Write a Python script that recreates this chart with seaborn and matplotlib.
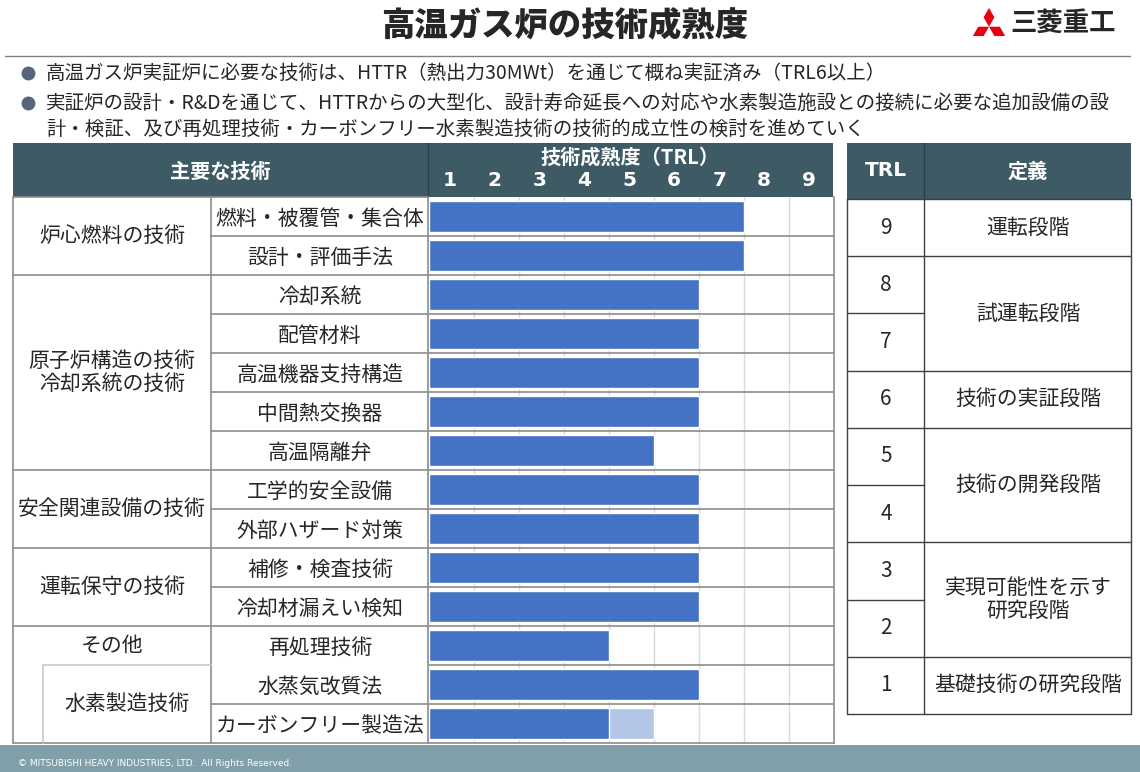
import numpy as np
import pandas as pd
import matplotlib.pyplot as plt
import matplotlib.patches as mpatches
import seaborn as sns

# ---- data ----
items = ['燃料・被覆管・集合体', '設計・評価手法', '冷却系統', '配管材料', '高温機器支持構造',
         '中間熱交換器', '高温隔離弁', '工学的安全設備', '外部ハザード対策', '補修・検査技術',
         '冷却材漏えい検知', '再処理技術', '水蒸気改質法', 'カーボンフリー製造法']
trl_now = [7, 7, 6, 6, 6, 6, 5, 6, 6, 6, 6, 4, 6, 4]
trl_outlook = [7, 7, 6, 6, 6, 6, 5, 6, 6, 6, 6, 4, 6, 5]
groups = ['炉心燃料の技術', '原子炉構造の技術\n冷却系統の技術', '安全関連設備の技術',
          '運転保守の技術', 'その他', '水素製造技術']
group_sizes = [2, 5, 2, 2, 1, 2]
trl_levels = [9, 8, 7, 6, 5, 4, 3, 2, 1]
trl_defs = ['運転段階', '試運転段階', '技術の実証段階', '技術の開発段階',
            '実現可能性を示す\n研究段階', '基礎技術の研究段階']
trl_def_spans = [1, 2, 1, 2, 2, 1]
bullets = ['高温ガス炉実証炉に必要な技術は、HTTR（熱出力30MWt）を通じて概ね実証済み（TRL6以上）',
           '実証炉の設計・R&Dを通じて、HTTRからの大型化、設計寿命延長への対応や水素製造施設との接続に必要な追加設備の設\n'
           '計・検証、及び再処理技術・カーボンフリー水素製造技術の技術的成立性の検討を進めていく']

df = pd.DataFrame({'item': items, 'now': trl_now, 'outlook': trl_outlook})

sns.set_style('white')
plt.rcParams['font.family'] = ['Noto Sans CJK JP', 'DejaVu Sans']

W, H = 1140, 772
HEAD = '#3e5b65'
LINE = '#8c8c8c'
fig = plt.figure(figsize=(W / 100, H / 100), dpi=100)

# page canvas in pixel coordinates
bg = fig.add_axes([0, 0, 1, 1])
bg.set_xlim(0, W)
bg.set_ylim(H, 0)
bg.axis('off')

bg.text(565, 26, '高温ガス炉の技術成熟度', fontsize=24, fontweight='heavy', ha='center', va='center')
bg.plot([5, 1130], [56, 56], color='#808080', lw=1)

# logo mark
s = 10.8
cx, cy = 989, 8 + s * np.sqrt(3)
for ang in [90, 210, 330]:
    a = np.radians(ang)
    d1 = np.radians(ang - 30)
    d2 = np.radians(ang + 30)
    pts = [(0, 0), (s * np.cos(d1), s * np.sin(d1)),
           (s * np.sqrt(3) * np.cos(a), s * np.sqrt(3) * np.sin(a)), (s * np.cos(d2), s * np.sin(d2))]
    pts = [(cx + px, cy - py) for px, py in pts]
    bg.add_patch(mpatches.Polygon(pts, closed=True, color='#e60012', lw=0))
bg.text(1010, 23, '三菱重工', fontsize=19, fontweight='bold', ha='left', va='center')

# bullets
for y in [73, 103]:
    bg.plot(28, y, 'o', color='#56657a', markersize=9)
bg.text(46, 73, bullets[0], fontsize=14, va='center')
bg.text(46, 116, bullets[1], fontsize=14, va='center', linespacing=1.3)

# left table header
top, row_h, n = 197, 39, len(items)
bottom = top + row_h * n
bg.add_patch(mpatches.Rectangle((13, 143), 820, top - 143, color=HEAD, lw=0))
bg.plot([428, 428], [143, top], color='#2b3f46', lw=1)
bg.text(220, 171, '主要な技術', fontsize=14.5, fontweight='bold', color='white', ha='center', va='center')
bg.text(630, 157, '技術成熟度（TRL）', fontsize=14.5, fontweight='bold', color='white', ha='center', va='center')

# left table grid
bg.plot([13, 13], [top, bottom], color=LINE, lw=1.2)
bg.plot([211, 211], [top, bottom], color=LINE, lw=1.2)
bg.plot([428, 428], [top, bottom], color=LINE, lw=1.2)
bg.plot([13, 428], [bottom, bottom], color=LINE, lw=1.2)
r = 0
for g, size in zip(groups, group_sizes):
    y0 = top + r * row_h
    y1 = y0 + size * row_h
    if g == '水素製造技術':
        bg.add_patch(mpatches.Rectangle((14, y0), 29, y1 - y0 - 1, color='white', lw=0, zorder=3))
        bg.plot([43, 211], [y0, y0], color='#c8c8c8', lw=1.2, zorder=4)
        bg.plot([43, 43], [y0, y1], color='#c8c8c8', lw=1.2, zorder=4)
        bg.text(127, (y0 + y1) / 2, g, fontsize=15, ha='center', va='center')
    else:
        bg.plot([13, 428], [y0, y0], color=LINE, lw=1.2)
        bg.text(112, (y0 + y1) / 2, g, fontsize=15, ha='center', va='center', linespacing=1.1)
    for k in range(1, size):
        bg.plot([211, 428], [y0 + k * row_h] * 2, color=LINE, lw=1.2)
    r += size

# bars
ax = fig.add_axes([429 / W, 1 - bottom / H, 405 / W, (bottom - top) / H])
sns.barplot(data=df, x='outlook', y='item', color='#b4c6e7', saturation=1, width=0.82, ax=ax, zorder=2)
sns.barplot(data=df, x='now', y='item', color='#4472c4', saturation=1, width=0.82, ax=ax, zorder=3)
ax.set_xlim(0, 9)
for v in range(1, 9):
    ax.axvline(v, color='#dadada', lw=1, zorder=0)
for k in range(n - 1):
    ax.axhline(k + 0.5, color=LINE, lw=1.2, zorder=1)
ax.set_xlabel('')
ax.set_ylabel('')
ax.xaxis.tick_top()
ax.set_xticks(np.arange(1, 10) - 0.55)
ax.set_xticklabels([str(v) for v in range(1, 10)], fontsize=14.5, fontweight='bold',
                   color='white', family='DejaVu Sans')
ax.tick_params(axis='x', length=0, pad=5)
ax.tick_params(axis='y', length=0, pad=(429 - 320) * 0.72)
for lab in ax.get_yticklabels():
    lab.set_horizontalalignment('center')
    lab.set_fontsize(15)
for side in ['top', 'left']:
    ax.spines[side].set_visible(False)
for side in ['right', 'bottom']:
    ax.spines[side].set_color(LINE)
    ax.spines[side].set_linewidth(1.2)

# right table
rx0, rx1, rxs = 847, 1131, 924
rtop = 199
rh = (714 - rtop) / len(trl_levels)
DARK = '#404040'
bg.add_patch(mpatches.Rectangle((rx0, 143), rx1 - rx0, rtop - 143, color=HEAD, lw=0))
bg.plot([rxs, rxs], [143, rtop], color='#2b3f46', lw=1)
bg.text(886, 171, 'TRL', fontsize=14.5, fontweight='bold', color='white', ha='center', va='center',
        family='DejaVu Sans')
bg.text(1028, 171, '定義', fontsize=14.5, fontweight='bold', color='white', ha='center', va='center')
for i, lv in enumerate(trl_levels):
    y0 = rtop + i * rh
    bg.plot([rx0, rxs], [y0, y0], color=DARK, lw=1)
    bg.text(886, y0 + rh / 2, str(lv), fontsize=15, ha='center', va='center')
r = 0
for d, sp in zip(trl_defs, trl_def_spans):
    y0 = rtop + r * rh
    bg.plot([rxs, rx1], [y0, y0], color=DARK, lw=1)
    bg.text(1028, y0 + sp * rh / 2, d, fontsize=15, ha='center', va='center', linespacing=1.1)
    r += sp
rbot = rtop + len(trl_levels) * rh
bg.plot([rx0, rx1], [rbot, rbot], color=DARK, lw=1)
for x in [rx0, rxs, rx1]:
    bg.plot([x, x], [rtop, rbot], color=DARK, lw=1)

# footer
bg.add_patch(mpatches.Rectangle((0, 745), W, H - 745, color='#809fa9', lw=0))
bg.text(18, 763, '© MITSUBISHI HEAVY INDUSTRIES, LTD.  All Rights Reserved.', fontsize=6.5,
        color='white', va='center', family='DejaVu Sans')

fig.savefig('out.png', dpi=100)
